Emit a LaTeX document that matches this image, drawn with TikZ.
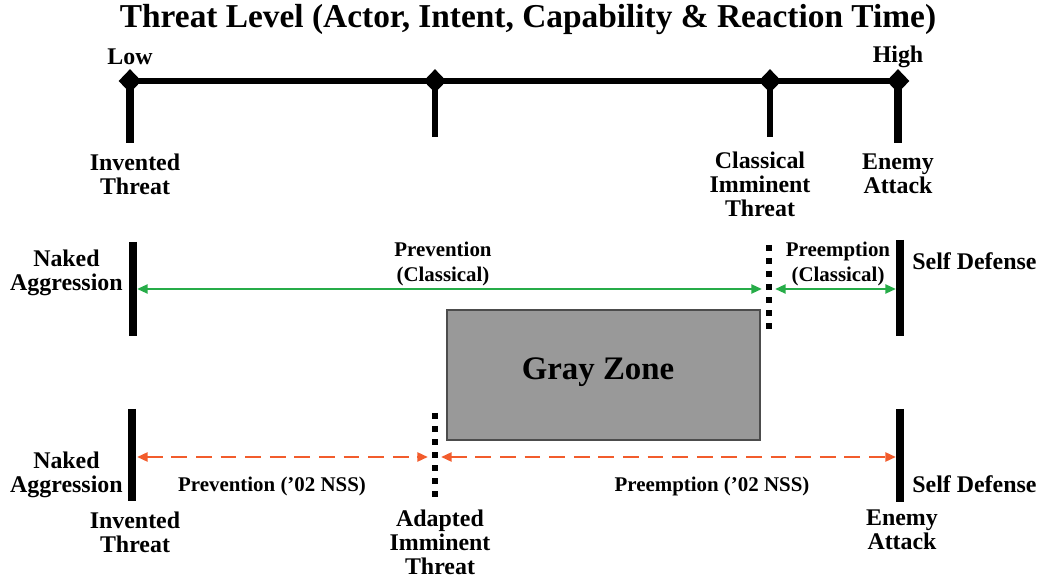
\documentclass[tikz,border=0pt]{standalone}
\usepackage{fontspec}
\setmainfont{Liberation Serif}
\usetikzlibrary{arrows.meta,shapes.geometric}

\definecolor{arrgreen}{RGB}{38,172,72}
\definecolor{arrorange}{RGB}{242,92,44}
\definecolor{zonegray}{RGB}{153,153,153}

\begin{document}
\begin{tikzpicture}[x=0.02cm,y=-0.02cm,
  lbl/.style={font=\bfseries\fontsize{13.6}{13.6}\selectfont,align=center,inner sep=0pt},
  small/.style={font=\bfseries\fontsize{11.9}{14.2}\selectfont,align=center,inner sep=0pt},
  knob/.style={diamond,fill=black,inner sep=0pt,minimum width=0.46cm,minimum height=0.48cm},
  bar/.style={line width=4.5pt},
  tick/.style={line width=3.3pt},
  dots/.style={line width=3.4pt,dash pattern=on 3.4pt off 4pt},
  greenarrow/.style={draw=arrgreen,line width=1.4pt,{Triangle[length=6pt,width=5pt]}-{Triangle[length=6pt,width=5pt]}},
  orangearrow/.style={draw=arrorange,line width=1.7pt,dash pattern=on 9pt off 5pt,{Triangle[length=6pt,width=5pt]}-{Triangle[length=6pt,width=5pt]}}]
\useasboundingbox (0,0) rectangle (1039,577);

% title and scale
\node[font=\bfseries\fontsize{19}{20}\selectfont,inner sep=0pt] (title) at (528,20) {Threat Level (Actor, Intent, Capability \& Reaction Time)};
\node[knob] (klow) at (130,81) {};
\node[knob] (kmid) at (435,81) {};
\node[knob] (kcl) at (770,81) {};
\node[knob] (khigh) at (898,81) {};
\draw[line width=3.4pt] (klow.center) -- (khigh.center);
\coordinate (tlow) at (130,143);
\coordinate (tmid) at (435,137);
\coordinate (tcl) at (770,137);
\coordinate (thigh) at (898,143);
\draw[bar] (klow.center) -- (tlow);
\draw[tick] (kmid.center) -- (tmid);
\draw[tick] (kcl.center) -- (tcl);
\draw[bar] (khigh.center) -- (thigh);
\node[lbl] (low) at (130,57) {Low};
\node[lbl] (high) at (898,57) {High};
\node[lbl] (invtop) at (135,174) {Invented\\Threat};
\node[lbl] (classimm) at (760,184) {Classical\\Imminent\\Threat};
\node[lbl] (enemytop) at (898,174) {Enemy\\Attack};

% classical row
\coordinate (naA) at (133,242);
\coordinate (naB) at (133,336);
\coordinate (sdA) at (900,240);
\coordinate (sdB) at (900,336);
\coordinate (ciA) at (769,245);
\coordinate (ciB) at (769,334);
\draw[bar] (naA) -- (naB);
\draw[bar] (sdA) -- (sdB);
\draw[dots] (ciA) -- (ciB);
\coordinate (pv1) at (137,289);
\coordinate (pv2) at (762,289);
\coordinate (pe1) at (775,289);
\coordinate (pe2) at (896,289);
\draw[greenarrow] (pv1) -- (pv2);
\draw[greenarrow] (pe1) -- (pe2);
\node[lbl,anchor=east] (nakedtop) at (123,273) {Naked\\Aggression};
\node[small] (prevcl) at (443,264) {Prevention\\(Classical)};
\node[small] (preecl) at (838,264) {Preemption\\(Classical)};
\node[lbl,anchor=west] (selftop) at (912,261) {Self Defense};

% gray zone
\draw[draw=black!70,line width=0.8pt,fill=zonegray] (447,310) rectangle (760,440);
\node[font=\bfseries\fontsize{18.7}{20}\selectfont,inner sep=0pt] (gray) at (598,372) {Gray Zone};

% 2002 NSS row
\coordinate (nbA) at (132,409);
\coordinate (nbB) at (132,501);
\coordinate (sbA) at (900,409);
\coordinate (sbB) at (900,502);
\coordinate (aiA) at (435,413);
\coordinate (aiB) at (435,498);
\draw[bar] (nbA) -- (nbB);
\draw[bar] (sbA) -- (sbB);
\draw[dots] (aiA) -- (aiB);
\coordinate (pn1) at (137,457);
\coordinate (pn2) at (428,457);
\coordinate (en1) at (441,457);
\coordinate (en2) at (896,457);
\draw[orangearrow] (pn1) -- (pn2);
\draw[orangearrow] (en1) -- (en2);
\node[lbl,anchor=east] (nakedbot) at (123,475) {Naked\\Aggression};
\node[small] (prevnss) at (272,486) {Prevention ('02 NSS)};
\node[small] (preenss) at (712,486) {Preemption ('02 NSS)};
\node[lbl,anchor=west] (selfbot) at (912,484) {Self Defense};
\node[lbl] (invbot) at (135,532) {Invented\\Threat};
\node[lbl] (adapted) at (440,542) {Adapted\\Imminent\\Threat};
\node[lbl] (enemybot) at (902,530) {Enemy\\Attack};
\end{tikzpicture}
\end{document}
